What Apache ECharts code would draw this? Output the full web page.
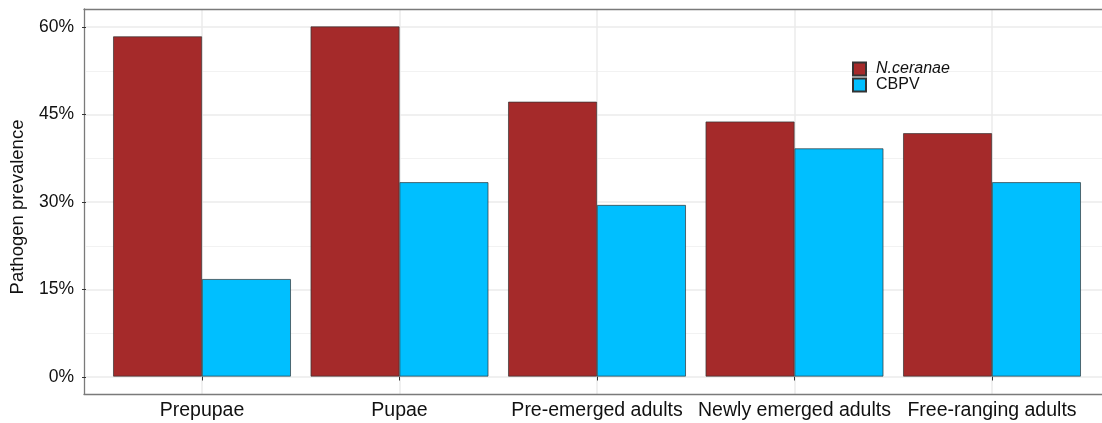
<!DOCTYPE html>
<html>
<head>
<meta charset="utf-8">
<script src="https://cdn.jsdelivr.net/npm/echarts@6/dist/echarts.min.js"></script>
<style>
html,body{margin:0;padding:0;background:#fff;}
#chart{width:1102px;height:423px;}
</style>
</head>
<body>
<div id="chart"></div>
<script>
const categories = ['Prepupae', 'Pupae', 'Pre-emerged adults', 'Newly emerged adults', 'Free-ranging adults'];
const seriesNames = ['N.ceranae', 'CBPV'];
const nceranae = [58.3, 60.0, 47.1, 43.7, 41.7];
const cbpv = [16.7, 33.3, 29.4, 39.1, 33.3];
const yTicks = [0, 15, 30, 45, 60];

const FONT = '"Liberation Sans", Arial, sans-serif';
const frameLine = { show: true, lineStyle: { color: '#7a7a7a', width: 1.3 } };
const chart = echarts.init(document.getElementById('chart'));
chart.setOption({
  animation: false,
  textStyle: { fontFamily: FONT },
  grid: [
    { left: 202, right: 110, top: 9, bottom: 29 },
    { left: 84, right: 0, top: 27, bottom: 46 },
    { left: 84, right: 0, top: 9, bottom: 29 }
  ],
  legend: {
    orient: 'vertical', left: 852, top: 61, padding: 0, itemGap: 0, itemWidth: 13, itemHeight: 13,
    icon: 'rect',
    data: seriesNames,
    formatter: n => n === 'N.ceranae' ? '{i|' + n + '}' : n,
    textStyle: { fontSize: 16, lineHeight: 13.5, color: '#111', fontFamily: FONT, padding: [0, 0, 0, 5],
      rich: { i: { fontStyle: 'italic', fontSize: 16, lineHeight: 13.5, color: '#111', fontFamily: FONT } } }
  },
  xAxis: [
    { type: 'category', gridIndex: 0, data: categories, boundaryGap: false,
      axisLine: { show: false },
      axisTick: { show: true, length: 4, lineStyle: { color: '#333' } },
      axisLabel: { color: '#111', fontSize: 19.5, margin: 7, interval: 0 },
      splitLine: { show: true, lineStyle: { color: '#ebebeb', width: 1.5 } } },
    { type: 'value', gridIndex: 1, show: false },
    { type: 'value', gridIndex: 2, position: 'bottom', min: 0, max: 1,
      axisLine: frameLine, axisTick: { show: false }, axisLabel: { show: false }, splitLine: { show: false } },
    { type: 'value', gridIndex: 2, position: 'top', min: 0, max: 1,
      axisLine: frameLine, axisTick: { show: false }, axisLabel: { show: false }, splitLine: { show: false } }
  ],
  yAxis: [
    { type: 'value', gridIndex: 0, min: -3, max: 63, show: false },
    { type: 'value', gridIndex: 1, min: 0, max: 60, interval: 15,
      axisLine: { show: false },
      axisTick: { show: true, length: 4, lineStyle: { color: '#333' } },
      axisLabel: { color: '#111', fontSize: 17.5, margin: 12,
        formatter: v => yTicks.includes(v) ? v + '%' : '' },
      splitLine: { show: true, lineStyle: { color: '#ebebeb', width: 1.5 } },
      minorTick: { show: false, splitNumber: 2 },
      minorSplitLine: { show: true, lineStyle: { color: '#f2f2f2', width: 1 } },
      name: 'Pathogen prevalence', nameLocation: 'middle', nameGap: 59, nameRotate: 90,
      nameTextStyle: { fontSize: 18.5, color: '#111', fontFamily: FONT, padding: [0, 10, 0, 0] } },
    { type: 'value', gridIndex: 2, position: 'left', min: 0, max: 1,
      axisLine: frameLine, axisTick: { show: false }, axisLabel: { show: false }, splitLine: { show: false } }
  ],
  series: [
    { name: seriesNames[0], type: 'bar', xAxisIndex: 0, yAxisIndex: 0, data: nceranae,
      barGap: '0%', barCategoryGap: '10%', clip: false,
      itemStyle: { color: '#A52A2A', borderColor: '#333', borderWidth: 0.7 } },
    { name: seriesNames[1], type: 'bar', xAxisIndex: 0, yAxisIndex: 0, data: cbpv,
      barGap: '0%', barCategoryGap: '10%', clip: false,
      itemStyle: { color: '#00BFFF', borderColor: '#333', borderWidth: 0.7 } }
  ]
});
</script>
</body>
</html>
